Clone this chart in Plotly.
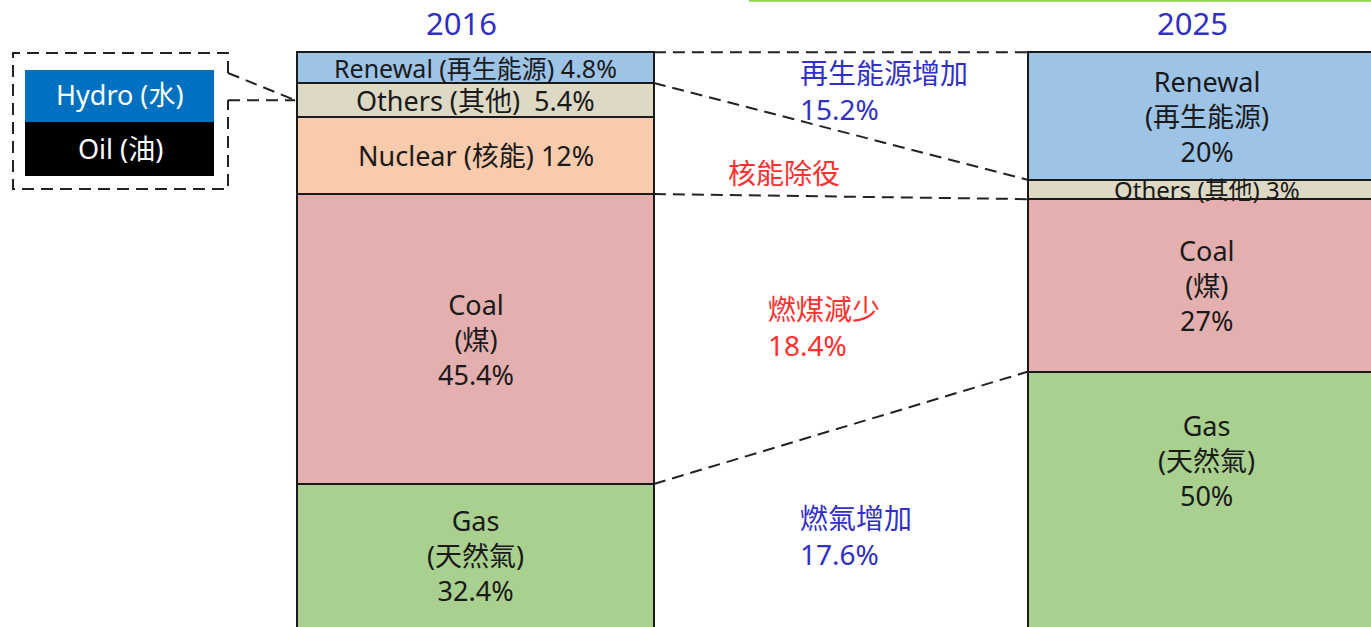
import plotly.graph_objects as go

# ---------------- data ----------------
years = ["2016", "2025"]
sources_en = ["Gas", "Coal", "Nuclear", "Others", "Renewal"]
sources_zh = ["天然氣", "煤", "核能", "其他", "再生能源"]
share_2016 = [32.4, 45.4, 12.0, 5.4, 4.8]
share_2025 = [50.0, 27.0, None, 3.0, 20.0]
legend_items = ["Hydro (水)", "Oil (油)"]

# ---------------- style ----------------
colors = ["#A9D08E", "#E3B0AF", "#F8CBAD", "#DDD9C4", "#9DC3E6"]
W, H = 1371, 627
T, B = 51, 0
Y_RANGE = [10, 100.2]
BAR_W = 0.488
X_RANGE = [-0.6505, 1.2250]
FONT = "Noto Sans, Noto Sans CJK TC, sans-serif"
LBL = 27
NOTE = 28
BLUE_TXT = "#3030C8"
RED_TXT = "#FF3030"
DASH = "12px,7px"
plot_h = H - T - B
px_per_unit = plot_h / (Y_RANGE[1] - Y_RANGE[0])


def ppx(px):
    return px / W


def ppy(py):
    return (H - B - py) / plot_h


def v2py(v):
    return T + (Y_RANGE[1] - v) * px_per_unit


fig = go.Figure()
series = [share_2016, share_2025]
for i, (en, zh) in enumerate(zip(sources_en, sources_zh)):
    fig.add_trace(go.Bar(
        x=[0, 1], y=[share_2016[i], share_2025[i]], width=BAR_W,
        marker=dict(color=colors[i], line=dict(color="#1a1a1a", width=2)),
        name=en, hoverinfo="skip", showlegend=False))


def cum(vals):
    out, c = [], 0
    for v in vals:
        lo = c
        c += (v or 0)
        out.append((lo, c))
    return out


bounds = [cum(share_2016), cum(share_2025)]

# segment labels
one_line = [{"Renewal", "Others", "Nuclear"}, {"Others"}]
annotations = []
for b in range(2):
    for i, (en, zh) in enumerate(zip(sources_en, sources_zh)):
        v = series[b][i]
        if not v:
            continue
        lo, hi = bounds[b][i]
        pct = f"{v:g}%"
        size = LBL
        if en in one_line[b]:
            sep = "  " if (b == 0 and en == "Others") else " "
            txt = f"{en} ({zh}){sep}{pct}"
            size = round(max(24, min(LBL, v * px_per_unit * 0.8)))
        else:
            txt = f"{en}<br>({zh})<br>{pct}"
        mid = (max(lo, Y_RANGE[0]) + hi) / 2
        if lo < Y_RANGE[0]:
            mid = max(mid, hi - 14)
        annotations.append(dict(x=b, y=mid, xref="x", yref="y", text=txt,
                                xanchor="center", yanchor="middle",
                                showarrow=False, font=dict(size=size, color="#1a1a1a", family=FONT)))

# year titles
for b, yr in enumerate(years):
    annotations.append(dict(x=b, y=ppy(23), xref="x", yref="paper", text=yr, xshift=-14,
                            xanchor="center", yanchor="middle",
                            showarrow=False, font=dict(size=31, color=BLUE_TXT, family=FONT)))

# change notes
renew_gain = share_2025[4] - share_2016[4]
coal_drop = share_2016[1] - share_2025[1]
gas_gain = share_2025[0] - share_2016[0]
notes = [
    (798, 52, f"再生能源增加<br>{renew_gain:.1f}%", BLUE_TXT),
    (726, 152, "核能除役", RED_TXT),
    (766, 288, f"燃煤減少<br>{coal_drop:.1f}%", RED_TXT),
    (798, 497, f"燃氣增加<br>{gas_gain:.1f}%", BLUE_TXT),
]
for px, py, txt, col in notes:
    annotations.append(dict(x=ppx(px), y=ppy(py), xref="paper", yref="paper", text=txt,
                            xanchor="left", yanchor="top", align="left", showarrow=False,
                            font=dict(size=NOTE, color=col, family=FONT)))

# legend box texts
for txt, cy in zip(legend_items, [95, 148]):
    annotations.append(dict(x=ppx(120), y=ppy(cy), xref="paper", yref="paper", text=txt,
                            xanchor="center", yanchor="middle",
                            showarrow=False, font=dict(size=LBL, color="white", family=FONT)))

shapes = []
# connecting dashed lines between bars
links = [(4, 1, 4, 1), (4, 0, 4, 0), (2, 0, 3, 0), (1, 0, 1, 0)]
for i16, s16, i25, s25 in links:
    y0 = bounds[0][i16][s16]
    y1 = bounds[1][i25][s25]
    shapes.append(dict(type="line", xref="x", yref="y", x0=BAR_W / 2, x1=1 - BAR_W / 2,
                       y0=y0, y1=y1, line=dict(color="#222", width=2, dash=DASH)))

# legend callout
others_mid_py = v2py(sum(bounds[0][3]) / 2)
bar_left_px = (0 - BAR_W / 2 - X_RANGE[0]) / (X_RANGE[1] - X_RANGE[0]) * W
shapes.append(dict(type="rect", xref="paper", yref="paper", x0=ppx(25), x1=ppx(214),
                   y0=ppy(122), y1=ppy(70), fillcolor="#0070C0", line=dict(width=0)))
shapes.append(dict(type="rect", xref="paper", yref="paper", x0=ppx(25), x1=ppx(214),
                   y0=ppy(176), y1=ppy(122), fillcolor="#000000", line=dict(width=0)))
box_path = (f"M {ppx(228)},{ppy(73)} L {ppx(228)},{ppy(53)} L {ppx(13)},{ppy(53)} "
            f"L {ppx(13)},{ppy(189)} L {ppx(228)},{ppy(189)} L {ppx(228)},{ppy(others_mid_py)}")
shapes.append(dict(type="path", xref="paper", yref="paper", path=box_path,
                   line=dict(color="#222", width=2, dash=DASH)))
for sy in [73, others_mid_py]:
    shapes.append(dict(type="line", xref="paper", yref="paper", x0=ppx(228), y0=ppy(sy),
                       x1=ppx(bar_left_px - 2), y1=ppy(others_mid_py),
                       line=dict(color="#222", width=2, dash=DASH)))
# top green rule
shapes.append(dict(type="line", xref="paper", yref="paper", x0=ppx(749), x1=1,
                   y0=ppy(0.8), y1=ppy(0.8), line=dict(color="#92D050", width=2)))

fig.update_layout(
    width=W, height=H, barmode="stack", bargap=0,
    margin=dict(l=0, r=0, t=T, b=B),
    paper_bgcolor="white", plot_bgcolor="white",
    xaxis=dict(range=X_RANGE, visible=False, fixedrange=True),
    yaxis=dict(range=Y_RANGE, visible=False, fixedrange=True),
    annotations=annotations, shapes=shapes,
    font=dict(family=FONT),
)

fig.write_html("out.html", config={"displayModeBar": False},
               post_script="document.body.style.margin='0px';document.body.style.overflow='hidden';")
